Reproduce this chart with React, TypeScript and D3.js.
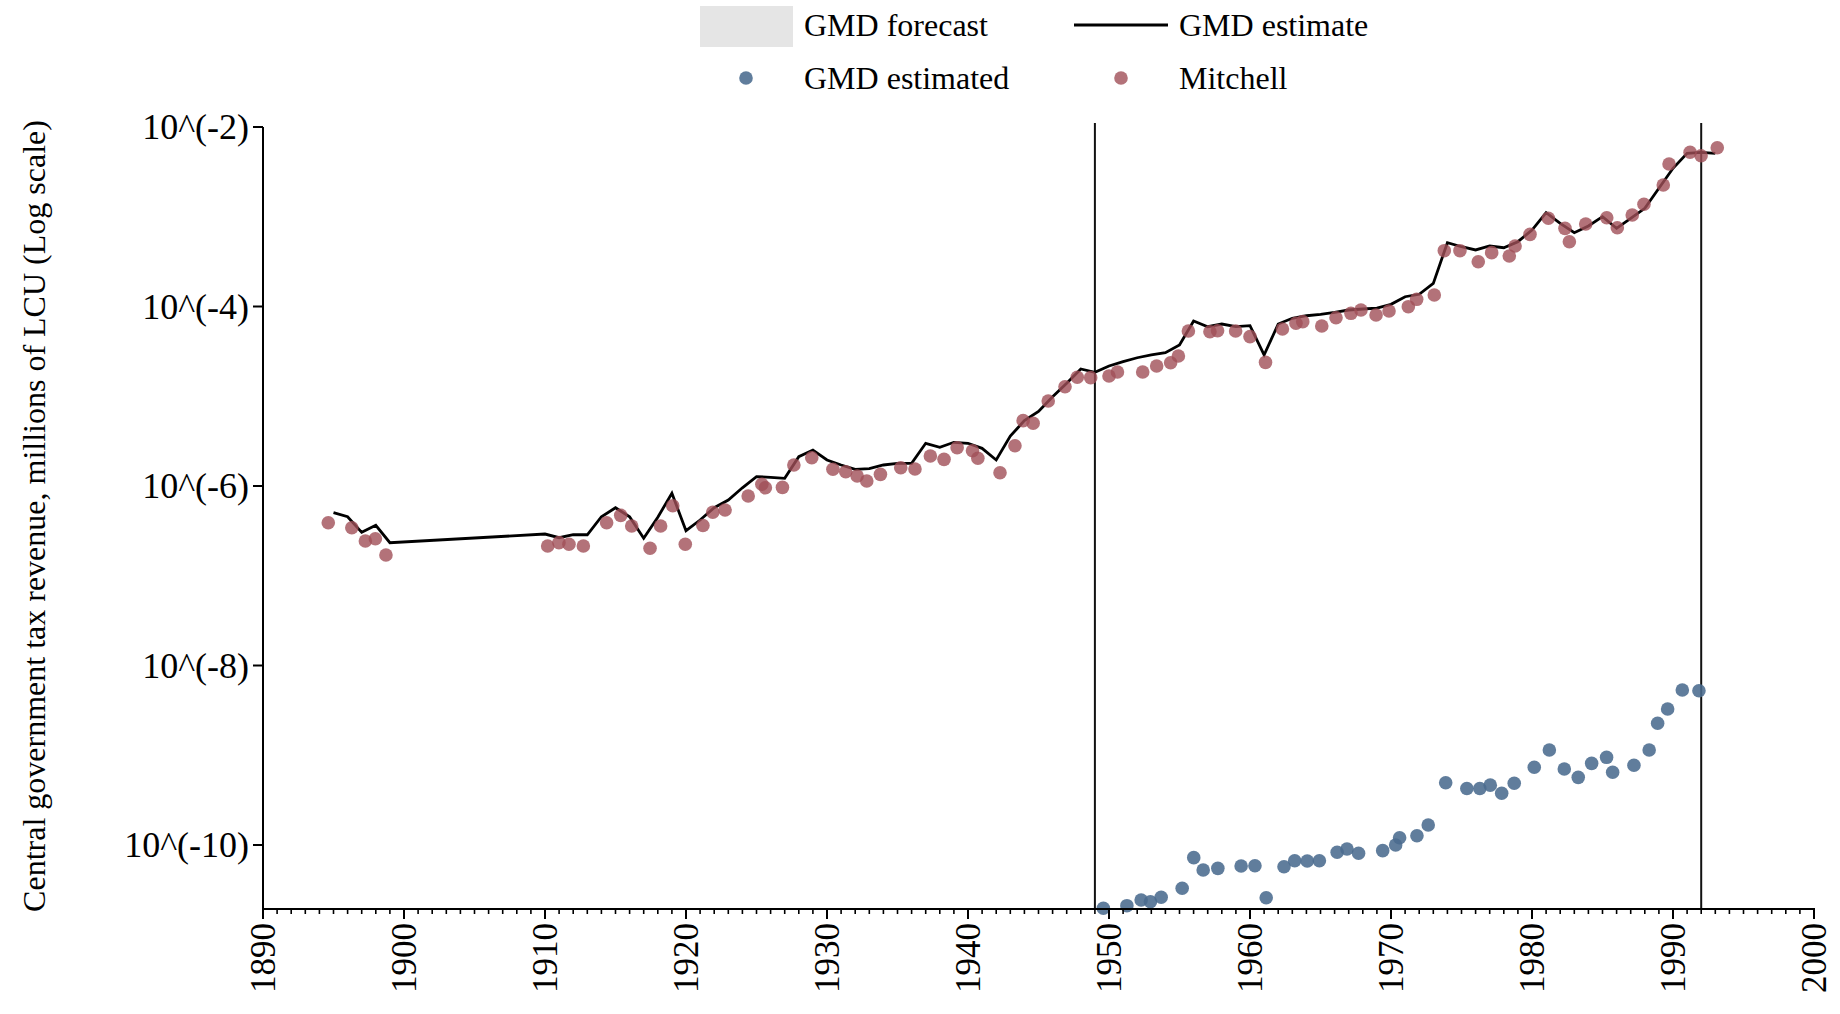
import React from "react";
import * as d3 from "d3";

// GMD estimate (line): years and log10 values
const lineYears = [1895,1896,1897,1898,1899,1910,1911,1912,1913,1914,1915,1916,1917,1918,1919,1920,1921,1922,1923,1924,1925,1926,1927,1928,1929,1930,1931,1932,1933,1934,1935,1936,1937,1938,1939,1940,1941,1942,1943,1944,1945,1946,1947,1948,1949,1950,1951,1952,1953,1954,1955,1956,1957,1958,1959,1960,1961,1962,1963,1964,1965,1966,1967,1968,1969,1970,1971,1972,1973,1974,1975,1976,1977,1978,1979,1980,1981,1982,1983,1984,1985,1986,1987,1988,1989,1990,1991,1992,1993];
const lineLog = [-6.297,-6.342,-6.516,-6.438,-6.632,-6.535,-6.576,-6.543,-6.543,-6.342,-6.242,-6.342,-6.583,-6.348,-6.081,-6.498,-6.379,-6.242,-6.156,-6.02,-5.896,-5.903,-5.914,-5.673,-5.599,-5.71,-5.766,-5.814,-5.807,-5.766,-5.747,-5.747,-5.524,-5.569,-5.513,-5.524,-5.58,-5.71,-5.443,-5.272,-5.17,-5.005,-4.856,-4.696,-4.733,-4.663,-4.615,-4.571,-4.54,-4.515,-4.429,-4.162,-4.225,-4.195,-4.225,-4.214,-4.54,-4.195,-4.131,-4.103,-4.087,-4.065,-4.039,-4.028,-4.017,-3.976,-3.891,-3.864,-3.742,-3.289,-3.334,-3.37,-3.326,-3.345,-3.278,-3.148,-2.955,-3.073,-3.178,-3.103,-2.999,-3.129,-3.017,-2.906,-2.683,-2.46,-2.293,-2.282,-2.293];

// Mitchell (red dots)
const mitchellYears = [1894.63,1896.3,1897.26,1897.97,1898.72,1910.19,1910.99,1911.7,1912.72,1914.37,1915.37,1916.15,1917.45,1918.2,1919.06,1919.95,1921.2,1921.9,1922.77,1924.41,1925.38,1925.63,1926.84,1927.65,1928.92,1930.42,1931.33,1932.14,1932.82,1933.79,1935.23,1936.24,1937.33,1938.3,1939.23,1940.32,1940.7,1942.27,1943.33,1943.91,1944.62,1945.69,1946.88,1947.75,1948.7,1950.0,1950.6,1952.39,1953.38,1954.37,1954.92,1955.63,1957.16,1957.7,1958.98,1960.0,1961.1,1962.3,1963.26,1963.74,1965.09,1966.1,1967.16,1967.87,1968.94,1969.86,1971.23,1971.82,1973.07,1973.78,1974.89,1976.19,1977.14,1978.39,1978.8,1979.86,1981.16,1982.34,1982.65,1983.81,1985.3,1986.05,1987.11,1987.94,1989.31,1989.72,1991.21,1991.99,1993.14];
const mitchellLog = [-6.409,-6.465,-6.613,-6.587,-6.769,-6.668,-6.631,-6.649,-6.668,-6.409,-6.327,-6.446,-6.694,-6.446,-6.22,-6.649,-6.44,-6.293,-6.267,-6.111,-5.981,-6.019,-6.015,-5.766,-5.685,-5.814,-5.841,-5.889,-5.944,-5.87,-5.796,-5.811,-5.666,-5.703,-5.573,-5.607,-5.691,-5.852,-5.551,-5.272,-5.301,-5.053,-4.894,-4.789,-4.793,-4.774,-4.73,-4.73,-4.663,-4.626,-4.552,-4.273,-4.281,-4.27,-4.273,-4.336,-4.622,-4.251,-4.187,-4.169,-4.217,-4.125,-4.076,-4.039,-4.095,-4.05,-4.002,-3.92,-3.872,-3.378,-3.378,-3.501,-3.4,-3.437,-3.326,-3.196,-3.017,-3.129,-3.278,-3.081,-3.011,-3.122,-2.981,-2.861,-2.646,-2.412,-2.282,-2.32,-2.231];

// GMD estimated (blue dots)
const estYears = [1949.6,1951.27,1952.28,1952.94,1953.7,1955.19,1956.01,1956.68,1957.72,1959.37,1960.35,1961.15,1962.41,1963.17,1964.06,1964.92,1966.18,1966.88,1967.7,1969.41,1970.33,1970.61,1971.84,1972.64,1973.88,1975.38,1976.3,1977.04,1977.85,1978.74,1980.16,1981.23,1982.29,1983.28,1984.23,1985.29,1985.72,1987.23,1988.31,1988.91,1989.62,1990.66,1991.84];
const estLog = [-10.705,-10.676,-10.613,-10.632,-10.582,-10.482,-10.141,-10.279,-10.26,-10.234,-10.231,-10.587,-10.242,-10.175,-10.178,-10.175,-10.081,-10.045,-10.092,-10.063,-10.0,-9.919,-9.897,-9.777,-9.306,-9.371,-9.371,-9.333,-9.424,-9.312,-9.134,-8.941,-9.153,-9.246,-9.09,-9.023,-9.19,-9.112,-8.941,-8.644,-8.485,-8.273,-8.281];

const yTickExps = [-2, -4, -6, -8, -10];
const xMajorTicks = [1890,1900,1910,1920,1930,1940,1950,1960,1970,1980,1990,2000];
const vLineYears = [1949, 1992];

const legendLabels = ["GMD forecast", "GMD estimate", "GMD estimated", "Mitchell"];
const yTitle = "Central government tax revenue, millions of LCU (Log scale)";

const W = 1840, H = 1014;
const FONT = "'Liberation Serif', 'Times New Roman', serif";
const BLUE = "#4a6b8e";
const RED = "#a04f58";

export default function App() {
  const x = d3.scaleLinear().domain([1890, 2000]).range([263, 1814]);
  const y = d3.scaleLog().domain([Math.pow(10, -10.713), 1e-2]).range([909, 127]);

  const lineData = lineYears.map((yr, i) => [yr, Math.pow(10, lineLog[i])] as [number, number]);
  const lineGen = d3.line<[number, number]>().x(d => x(d[0])).y(d => y(d[1]));

  const minorTicks = d3.range(1890, 2001, 1);

  return (
    <svg width={W} height={H} style={{ position: "absolute", left: 0, top: 0, background: "#fff" }} fontFamily={FONT}>
      {/* legend */}
      <g>
        <rect x={700} y={6} width={93} height={41} fill="#e5e5e5" />
        <text x={804} y={25} fontSize={32} dominantBaseline="central">{legendLabels[0]}</text>
        <line x1={1074} x2={1168} y1={25} y2={25} stroke="#000" strokeWidth={3} />
        <text x={1179} y={25} fontSize={32} dominantBaseline="central">{legendLabels[1]}</text>
        <circle cx={746} cy={78} r={6.8} fill={BLUE} fillOpacity={0.88} />
        <text x={804} y={78} fontSize={32} dominantBaseline="central">{legendLabels[2]}</text>
        <circle cx={1121} cy={78} r={6.8} fill={RED} fillOpacity={0.8} />
        <text x={1179} y={78} fontSize={32} dominantBaseline="central">{legendLabels[3]}</text>
      </g>

      {/* y title */}
      <text transform={`translate(34,${(123 + 909) / 2}) rotate(-90)`} textAnchor="middle" dominantBaseline="central" fontSize={32}>{yTitle}</text>

      {/* vertical lines */}
      {vLineYears.map(v => (
        <line key={v} x1={x(v)} x2={x(v)} y1={123} y2={909} stroke="#111" strokeWidth={2} />
      ))}

      {/* GMD estimate line */}
      <path d={lineGen(lineData) || ""} fill="none" stroke="#000" strokeWidth={2.8} strokeLinejoin="miter" />

      {/* Mitchell dots */}
      {mitchellYears.map((yr, i) => (
        <circle key={"m" + i} cx={x(yr)} cy={y(Math.pow(10, mitchellLog[i]))} r={6.8} fill={RED} fillOpacity={0.8} />
      ))}

      {/* GMD estimated dots */}
      {estYears.map((yr, i) => (
        <circle key={"e" + i} cx={x(yr)} cy={y(Math.pow(10, estLog[i]))} r={6.8} fill={BLUE} fillOpacity={0.88} />
      ))}

      {/* y axis */}
      <line x1={263} x2={263} y1={y(1e-2)} y2={909} stroke="#000" strokeWidth={2} />
      {yTickExps.map(e => (
        <g key={e}>
          <line x1={253} x2={263} y1={y(Math.pow(10, e))} y2={y(Math.pow(10, e))} stroke="#000" strokeWidth={2} />
          <text x={249} y={y(Math.pow(10, e))} textAnchor="end" dominantBaseline="central" fontSize={36}>{`10^(${e})`}</text>
        </g>
      ))}

      {/* x axis */}
      <line x1={262} x2={1815} y1={909} y2={909} stroke="#000" strokeWidth={2} />
      {minorTicks.map(t => (
        <line key={"mt" + t} x1={x(t)} x2={x(t)} y1={909} y2={914} stroke="#000" strokeWidth={1.6} />
      ))}
      {xMajorTicks.map(t => (
        <g key={"Mt" + t}>
          <line x1={x(t)} x2={x(t)} y1={909} y2={919} stroke="#000" strokeWidth={2} />
          <text transform={`translate(${x(t)},${923}) rotate(-90)`} textAnchor="end" dominantBaseline="central" fontSize={35}>{String(t)}</text>
        </g>
      ))}
    </svg>
  );
}
